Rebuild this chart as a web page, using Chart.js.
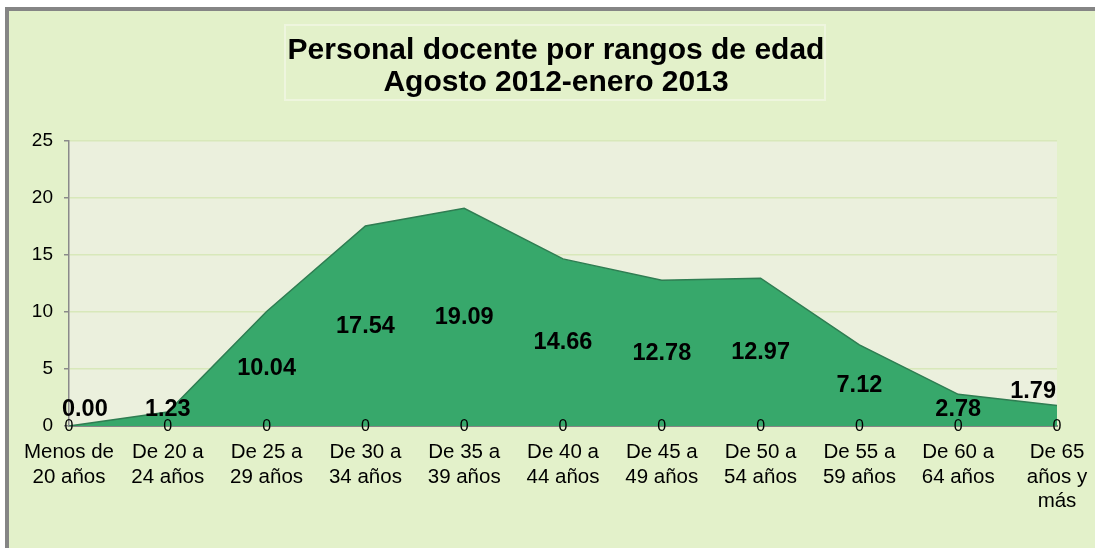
<!DOCTYPE html>
<html>
<head>
<meta charset="utf-8">
<title>Personal docente por rangos de edad</title>
<script src="https://cdn.jsdelivr.net/npm/chart.js@4/dist/chart.umd.min.js"></script>
<style>
  body { margin: 0; background: #ffffff; overflow: hidden; }
  canvas { display: block; }
</style>
</head>
<body>
<canvas id="grafica" width="1095" height="548"></canvas>
<script>
// datos
var categorias = [
	['Menos de', '20 años'],
	['De 20 a', '24 años'],
	['De 25 a', '29 años'],
	['De 30 a', '34 años'],
	['De 35 a', '39 años'],
	['De 40 a', '44 años'],
	['De 45 a', '49 años'],
	['De 50 a', '54 años'],
	['De 55 a', '59 años'],
	['De 60 a', '64 años'],
	['De 65', 'años y', 'más']
];
var porcentajes = [0.00, 1.23, 10.04, 17.54, 19.09, 14.66, 12.78, 12.97, 7.12, 2.78, 1.79];
var ceros = [0, 0, 0, 0, 0, 0, 0, 0, 0, 0, 0];
var ticksY = [0, 5, 10, 15, 20, 25];
var titulo = ['Personal docente por rangos de edad', 'Agosto 2012-enero 2013'];

var fuente = '"Liberation Sans", Arial, sans-serif';

// marco, fondo y titulo
var fondo = {
	id: 'fondo',
	beforeDraw: function(chart) {
		var ctx = chart.ctx, a = chart.chartArea;
		ctx.save();
		ctx.fillStyle = '#ffffff';
		ctx.fillRect(0, 0, chart.width, chart.height);
		ctx.fillStyle = '#858585';
		ctx.fillRect(5, 7, chart.width, chart.height);
		ctx.fillStyle = '#e3f1ca';
		ctx.fillRect(9, 11, chart.width, chart.height);
		ctx.fillStyle = '#ebf0dd';
		ctx.fillRect(a.left, a.top, a.right - a.left, a.bottom - a.top);
		ctx.restore();
	},
	afterDraw: function(chart) {
		var ctx = chart.ctx;
		ctx.save();
		ctx.strokeStyle = '#eef5de';
		ctx.lineWidth = 2;
		ctx.strokeRect(285, 25, 540, 75);
		ctx.fillStyle = '#000000';
		ctx.font = 'bold 30px ' + fuente;
		ctx.textAlign = 'center';
		ctx.textBaseline = 'alphabetic';
		ctx.fillText(titulo[0], 556, 59);
		ctx.fillText(titulo[1], 556, 91);
		ctx.restore();
	}
};

// etiquetas de datos estilo excel
var etiquetas = {
	id: 'etiquetas',
	afterDraw: function(chart) {
		var ctx = chart.ctx, a = chart.chartArea;
		var x = chart.scales.x, y = chart.scales.y;
		var base = y.getPixelForValue(0);
		ctx.save();
		ctx.fillStyle = '#000000';
		ctx.textAlign = 'center';
		ctx.textBaseline = 'middle';

		ctx.font = '16px ' + fuente;
		for (var j in ceros) {
			ctx.fillText(String(ceros[j]), x.getPixelForValue(Number(j)), base + 1);
		}

		ctx.font = 'bold 23.5px ' + fuente;
		for (var i in porcentajes) {
			var v = porcentajes[i];
			var txt = v.toFixed(2);
			var w = ctx.measureText(txt).width;
			var px = x.getPixelForValue(Number(i));
			px = Math.min(Math.max(px, a.left + w / 2 - 7), a.right - w / 2 - 1);
			var py = Math.min(y.getPixelForValue(v / 2), base - 16);
			if (Number(i) == porcentajes.length - 1) py -= 18;
			ctx.fillText(txt, px, py);
		}
		ctx.restore();
	}
};

var chartdata = {
	labels: categorias,
	datasets: [
		{
			label: 'Personal docente',
			data: porcentajes,
			fill: 'origin',
			tension: 0,
			backgroundColor: 'rgb(55, 168, 107)',
			borderColor: 'rgb(47, 125, 82)',
			borderWidth: 1.5,
			pointRadius: 0
		}
	]
};

var ctx = document.getElementById('grafica');

var AreaGraph = new Chart(ctx, {
	type: 'line',
	data: chartdata,
	plugins: [fondo, etiquetas],
	options: {
		responsive: false,
		animation: false,
		devicePixelRatio: 1,
		layout: { padding: { top: 141, right: 38, bottom: 0, left: 0 } },
		plugins: {
			legend: { display: false },
			title: { display: false },
			tooltip: { enabled: false }
		},
		scales: {
			x: {
				offset: false,
				z: 1,
				grid: { display: false, drawTicks: false },
				border: { color: '#858585', width: 2 },
				ticks: {
					autoSkip: false,
					maxRotation: 0,
					padding: 14,
					color: '#000000',
					font: { family: fuente, size: 20.5, lineHeight: 1.2 }
				},
				afterFit: function(scale) {
					scale.height = 122;
					scale.paddingLeft = 0;
					scale.paddingRight = 0;
				}
			},
			y: {
				min: ticksY[0],
				max: ticksY[ticksY.length - 1],
				ticks: {
					stepSize: ticksY[1] - ticksY[0],
					padding: 11,
					color: '#000000',
					font: { family: fuente, size: 19 }
				},
				grid: { color: '#d8e8ba', lineWidth: 1.5, tickColor: '#8a8a8a', tickLength: 5 },
				border: { color: '#8a8a8a', width: 1.5 },
				afterFit: function(scale) { scale.width = 69; }
			}
		}
	}
});
</script>
</body>
</html>
